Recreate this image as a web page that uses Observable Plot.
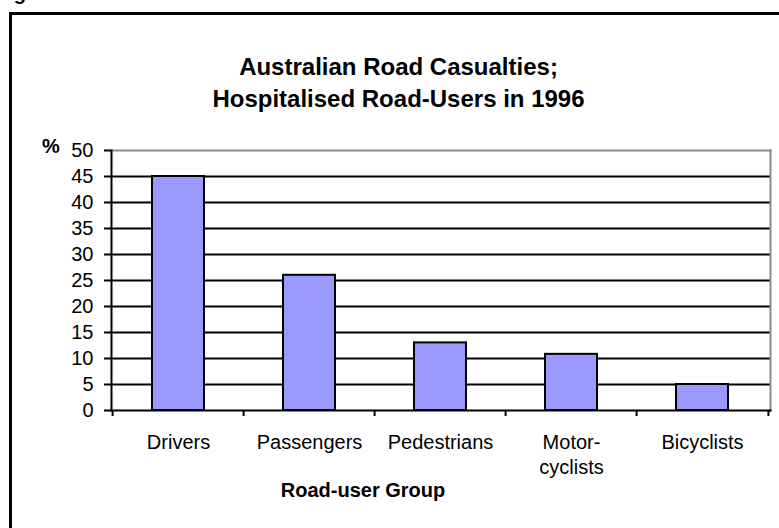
<!DOCTYPE html>
<html>
<head>
<meta charset="utf-8">
<script src="https://cdn.jsdelivr.net/npm/d3@7"></script>
<script src="https://cdn.jsdelivr.net/npm/@observablehq/plot@0.6"></script>
<style>
  html, body { margin: 0; padding: 0; background: #fff; overflow: hidden; }
  #wrap { position: relative; width: 779px; height: 528px; overflow: hidden; font-family: "Liberation Sans", Arial, sans-serif; color: #000; }
  #border { position: absolute; left: 9px; top: 12px; width: 820px; height: 600px; border: 3px solid #000; box-sizing: border-box; }
  .abs { position: absolute; white-space: nowrap; }
  #chart { position: absolute; left: 0; top: 0; }
</style>
</head>
<body>
<div id="wrap">
  <div class="abs" style="left:-4px; top:-17px; font-size:20px; line-height:20px; font-weight:bold;">Figure</div>
  <div id="border"></div>
  <div id="chart"></div>
  <div class="abs" id="title" style="left:0; width:797px; top:51px; text-align:center; font-size:24px; line-height:32px; font-weight:bold;">Australian Road Casualties;<br>Hospitalised Road-Users in 1996</div>
  <div class="abs" style="left:42px; top:134px; font-size:20px; line-height:24px; font-weight:bold;">%</div>
  <div class="abs" style="left:163px; width:400px; top:478px; text-align:center; font-size:20px; line-height:24px; font-weight:bold;">Road-user Group</div>
</div>
<script>
const categories = ["Drivers", "Passengers", "Pedestrians", "Motor-cyclists", "Bicyclists"];
const tickLabels = ["Drivers", "Passengers", "Pedestrians", "Motor-\ncyclists", "Bicyclists"];
const values = [45, 26, 13, 10.8, 5];
const yTicks = [0, 5, 10, 15, 20, 25, 30, 35, 40, 45, 50];
const gridTicks = [5, 10, 15, 20, 25, 30, 35, 40, 45];

const data = categories.map((c, i) => ({category: c, value: values[i]}));

const W = 779, H = 528;
const mL = 111, mR = 9, mT = 150, mB = 118;
const step = (W - mL - mR) / categories.length;
const plotH = H - mT - mB;

const chart = Plot.plot({
  width: W,
  height: H,
  marginLeft: mL,
  marginRight: mR,
  marginTop: mT,
  marginBottom: mB,
  style: {fontFamily: '"Liberation Sans", Arial, sans-serif', fontSize: "20px", color: "#000", background: "transparent"},
  x: {domain: categories, paddingInner: 0.6, paddingOuter: 0.3, label: null},
  y: {domain: [0, 50], label: null},
  marks: [
    Plot.gridY(gridTicks, {stroke: "#000", strokeOpacity: 1, strokeWidth: 2}),
    Plot.frame({anchor: "top", stroke: "#8c8c8c", strokeWidth: 2}),
    Plot.frame({anchor: "right", stroke: "#8c8c8c", strokeWidth: 2}),
    Plot.barY(data, {x: "category", y: "value", fill: "#9999ff", stroke: "#000", strokeWidth: 2}),
    Plot.frame({anchor: "left", stroke: "#000", strokeWidth: 2}),
    Plot.frame({anchor: "bottom", stroke: "#000", strokeWidth: 2}),
    Plot.axisY(yTicks, {tickSize: 7, tickPadding: 11, strokeWidth: 2, fontSize: 20, label: null}),
    Plot.ruleX(categories, {x: d => d, dx: -step / 2, insetTop: plotH, insetBottom: -6, stroke: "#000", strokeWidth: 2}),
    Plot.ruleX([categories[categories.length - 1]], {x: d => d, dx: step / 2, insetTop: plotH, insetBottom: -6, stroke: "#000", strokeWidth: 2}),
    Plot.axisX(categories, {tickSize: 0, tickPadding: 21, fontSize: 20, lineHeight: 1.25, label: null,
      tickFormat: d => tickLabels[categories.indexOf(d)]})
  ]
});
document.getElementById("chart").appendChild(chart);
</script>
</body>
</html>
